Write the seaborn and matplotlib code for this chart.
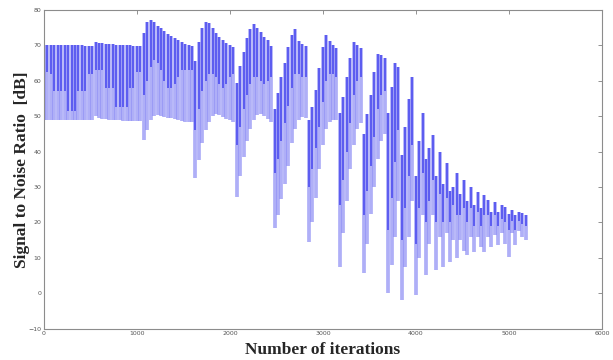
import numpy as np
import pandas as pd
import matplotlib
matplotlib.use("Agg")
import matplotlib.pyplot as plt
import seaborn as sns

# SNR is logged every STEP iterations; each logged point shows as one vertical stroke
STEP = 37

# upper end of each stroke [dB], one line per adaptation cycle
snr_top = [
    70.0, 70.0, 70.0, 70.0, 70.0, 70.0, 70.0, 70.0, 70.0, 70.0, 70.0, 70.0, 69.9, 69.9, 69.9,
    71.0, 70.8, 70.6, 70.5, 70.4, 70.3, 70.2, 70.1, 70.1, 70.0, 70.0, 69.9, 69.9, 69.9,
    73.5, 76.5, 77.2, 76.6, 75.6, 74.8, 74.0, 73.3, 72.6, 72.0, 71.4, 70.9, 70.5, 70.1, 69.8,
    65.5, 71.0, 75.0, 76.7, 76.2, 75.0, 73.6, 72.5, 71.5, 70.7, 70.1, 69.6,
    59.5, 64.2, 68.0, 72.0, 74.6, 76.0, 75.0, 73.8, 72.5, 71.5, 69.8,
    52.0, 56.5, 61.0, 65.0, 69.5, 73.0, 74.5, 71.2, 70.4, 69.8,
    49.0, 52.5, 57.5, 63.5, 69.5, 73.0, 71.2, 70.0, 69.4,
    51.0, 55.5, 61.0, 66.5, 71.0, 70.2, 69.2,
    45.0, 50.5, 56.0, 62.5, 67.7, 67.3, 66.5,
    50.8, 58.3, 64.9, 64.0,
    39.0, 47.0, 55.0, 61.2,
    33.0, 43.0, 50.9, 38.0, 41.0, 44.7, 33.0, 39.9, 31.0, 36.8, 29.0, 30.0, 34.0, 28.0, 32.0,
    26.0, 30.0, 25.0, 28.6, 24.0, 27.7, 26.3, 23.0, 25.8, 23.0, 24.9, 24.4, 22.5, 23.5, 22.0,
    23.0, 22.6, 22.0,
]

# lower end of the dense (dark) part of each stroke [dB]
snr_mid = [
    62.5, 62.5, 62.0, 57.0, 57.0, 57.0, 57.0, 51.5, 51.5, 51.5, 57.0, 57.0, 57.0, 62.0, 62.0,
    63.0, 63.0, 63.0, 58.0, 58.0, 58.0, 52.5, 52.5, 52.5, 52.5, 58.0, 58.0, 62.5, 62.5,
    56.0, 60.0, 64.0, 66.0, 65.0, 63.0, 60.0, 58.0, 58.0, 59.0, 61.0, 63.0, 63.0, 63.0, 63.0,
    46.0, 52.0, 57.0, 60.0, 62.0, 62.0, 61.0, 59.0, 58.0, 59.0, 61.0, 62.0,
    42.0, 47.0, 52.0, 56.0, 59.0, 61.0, 61.0, 60.0, 59.0, 60.0, 61.0,
    34.0, 38.0, 43.0, 48.0, 53.0, 58.0, 62.0, 62.0, 61.0, 61.0,
    30.0, 35.0, 41.0, 47.0, 54.0, 60.0, 62.0, 62.0, 61.0,
    25.0, 32.0, 40.0, 48.0, 56.0, 60.0, 61.0,
    22.0, 29.0, 36.0, 44.0, 52.0, 56.0, 57.0,
    18.0, 27.0, 37.0, 46.0,
    15.0, 24.0, 33.0, 42.0,
    14.0, 24.0, 34.0, 20.0, 26.0, 32.0, 20.0, 28.0, 20.0, 27.0, 20.0, 25.0, 22.0, 22.0, 24.0,
    20.0, 24.0, 19.0, 23.0, 19.0, 22.0, 22.0, 19.0, 22.0, 19.0, 21.0, 20.0, 18.0, 20.5, 18.0,
    20.5, 19.5, 19.0,
]

# lower end of each stroke [dB]
snr_bot = [
    48.8, 48.8, 48.8, 48.8, 48.8, 48.8, 48.8, 48.8, 48.8, 48.8, 48.8, 48.8, 48.8, 48.8, 48.8,
    50.0, 49.6, 49.3, 49.1, 49.0, 48.9, 48.8, 48.8, 48.7, 48.7, 48.7, 48.6, 48.6, 48.6,
    43.3, 46.0, 49.0, 50.2, 50.3, 50.1, 49.9, 49.6, 49.4, 49.1, 48.9, 48.7, 48.5, 48.4, 48.3,
    32.5, 37.5, 42.5, 46.0, 48.5, 50.0, 50.5, 50.3, 49.9, 49.3, 48.8, 48.4,
    27.3, 33.0, 38.5, 43.0, 46.5, 49.0, 50.3, 50.5, 50.0, 49.2, 48.4,
    18.3, 22.0, 26.5, 31.0, 36.0, 42.4, 46.5, 49.0, 49.8, 49.4,
    14.6, 20.0, 27.0, 35.0, 42.0, 46.5, 48.3, 49.0, 48.8,
    7.5, 17.0, 26.0, 35.0, 42.0, 46.5, 48.0,
    5.6, 14.0, 22.5, 30.0, 38.0, 43.0, 45.0,
    0.0, 8.0, 16.0, 26.0,
    -2.0, 7.5, 16.0, 26.0,
    -0.5, 10.0, 22.0, 5.1, 14.0, 22.0, 6.5, 16.0, 7.5, 17.0, 8.9, 15.0, 9.9, 15.0, 12.0,
    10.8, 16.0, 11.7, 16.0, 13.0, 11.7, 16.0, 13.1, 16.5, 13.6, 17.0, 14.0, 10.2, 17.0, 13.6,
    17.5, 16.0, 15.0,
]

x_ticks = [0, 1000, 2000, 3000, 4000, 5000, 6000]
y_ticks = [-10, 0, 10, 20, 30, 40, 50, 60, 70, 80]

# one short vertical line per logged point
iters = np.arange(len(snr_top)) * STEP
pulse = np.repeat(np.arange(len(snr_top)), 2)
x = np.repeat(iters, 2)
light = pd.DataFrame({"it": x, "pulse": pulse,
                      "snr": np.column_stack([snr_top, snr_bot]).ravel()})
dark = pd.DataFrame({"it": x, "pulse": pulse,
                     "snr": np.column_stack([snr_top, snr_mid]).ravel()})

sns.set_style("white")

fig = plt.figure(figsize=(6.13, 3.6), dpi=100)
ax = fig.add_axes([44 / 613, 1 - 328.7 / 360, 558 / 613, 318.7 / 360])

sns.lineplot(data=light, x="it", y="snr", units="pulse", estimator=None, sort=False,
             color="#8585f4", alpha=0.65, linewidth=2.7, solid_capstyle="butt", ax=ax)
sns.lineplot(data=dark, x="it", y="snr", units="pulse", estimator=None, sort=False,
             color="#4545ee", linewidth=1.1, solid_capstyle="butt", ax=ax)

ax.set_xlim(0, 6000)
ax.set_ylim(-10, 80)
ax.set_xticks(x_ticks)
ax.set_yticks(y_ticks)
ax.tick_params(direction="in", length=3, width=0.6, color="#808080",
               labelsize=4.5, labelcolor="#555555", pad=2,
               top=True, right=True)
for s in ax.spines.values():
    s.set_color("#8c8c8c")
    s.set_linewidth(0.8)

lab = dict(family="Liberation Serif", weight="bold", size=12.5)
ax.set_xlabel("Number of iterations", labelpad=4, **lab)
ax.set_ylabel("Signal to Noise Ratio  [dB]", labelpad=-1, **lab)

fig.savefig("out.png", dpi=100)
